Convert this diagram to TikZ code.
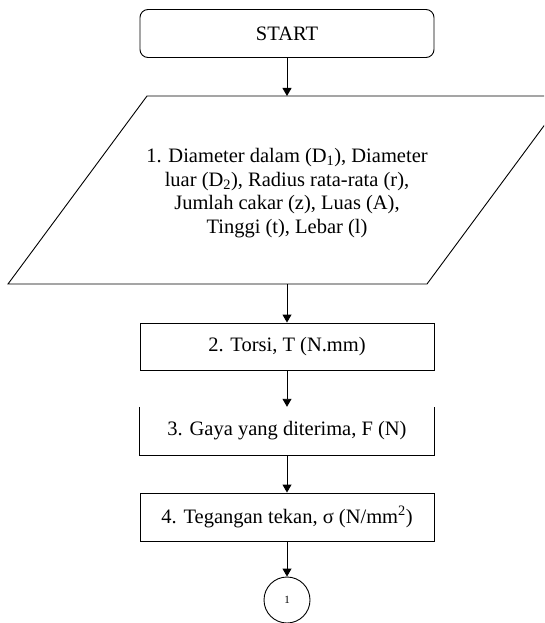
\documentclass[tikz,border=0pt]{standalone}
\usepackage{fontspec}
\setmainfont{Liberation Serif}
\usetikzlibrary{arrows.meta}
\tikzset{
  base/.style={font=\fontsize{20.5}{23.5}\selectfont, inner sep=0pt},
  procbox/.style={base, draw, line width=0.9pt, minimum width=294pt, minimum height=48pt},
  openbox/.style={base, minimum width=294pt, minimum height=48pt},
  termbox/.style={procbox, rounded corners=8pt},
  conn/.style={base, draw, line width=0.9pt, circle, minimum size=46pt, font=\fontsize{11}{13}\selectfont},
  flow/.style={line width=0.9pt, -{Triangle[length=8pt,width=9pt]}},
  edge/.style={line width=0.9pt}
}
\begin{document}
\begin{tikzpicture}[x=1pt,y=-1pt]
\useasboundingbox (0,0) rectangle (544,623);
\clip (0,0) rectangle (544,623);
\node[termbox] (start) at (287,33.5) {START};
\draw[edge] (8,284) -- (147,96) -- (566,96) -- (427,284) -- cycle;
\coordinate (ptop) at (287,96);
\coordinate (pbot) at (287,284);
\node[base, align=center] (in1) at (287,193) {1. Diameter dalam (D\textsubscript{1}), Diameter\\luar (D\textsubscript{2}), Radius rata-rata (r),\\Jumlah cakar (z), Luas (A),\\Tinggi (t), Lebar (l)};
\node[procbox, minimum height=47pt] (b2) at (287,346.5) {2. Torsi, T (N.mm)};
\node[openbox] (b3) at (287,431) {3. Gaya yang diterima, F (N)};
\draw[edge] (b3.north west) -- (b3.south west) -- (b3.south east) -- (b3.north east);
\node[procbox] (b4) at (287,517) {4. Tegangan tekan, σ (N/mm\textsuperscript{2})};
\node[conn] (c1) at (287,600) {1};
\draw[flow] (start.south) -- (ptop);
\draw[flow] (pbot) -- (b2.north);
\draw[flow] (b2.south) -- (b3.north);
\draw[flow] (b3.south) -- (b4.north);
\draw[flow] (b4.south) -- (c1.north);
\end{tikzpicture}
\end{document}
